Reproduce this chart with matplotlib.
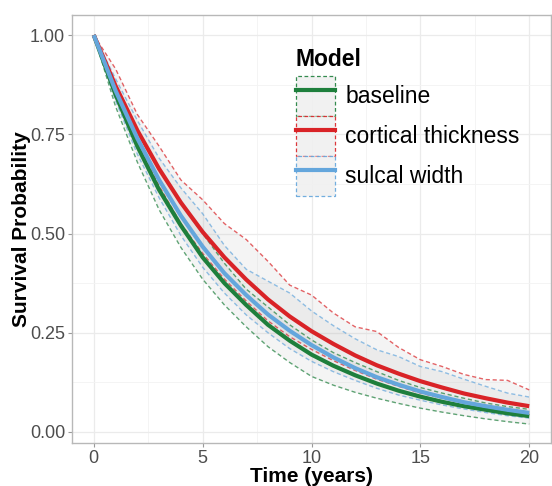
import matplotlib
matplotlib.use('Agg')
import matplotlib.pyplot as plt
from matplotlib.patches import Rectangle
from matplotlib.lines import Line2D
from matplotlib.ticker import MultipleLocator

plt.rcParams['font.family'] = ['Liberation Sans', 'DejaVu Sans']

# ---------------- data ----------------
years = list(range(21))
models = ['baseline', 'cortical thickness', 'sulcal width']
colors = ['#1E7F3C', '#D92327', '#64A6DC']

baseline = [1.00, 0.85, 0.72, 0.61, 0.52, 0.44, 0.375, 0.32, 0.27, 0.23, 0.195,
            0.167, 0.143, 0.122, 0.104, 0.089, 0.076, 0.065, 0.056, 0.047, 0.040]
cortical = [1.00, 0.872, 0.76, 0.663, 0.578, 0.504, 0.44, 0.384, 0.334, 0.291, 0.254,
            0.222, 0.193, 0.168, 0.147, 0.128, 0.112, 0.097, 0.085, 0.074, 0.065]
sulcal = [1.00, 0.86, 0.74, 0.635, 0.545, 0.467, 0.40, 0.345, 0.296, 0.255, 0.219,
          0.188, 0.161, 0.138, 0.119, 0.102, 0.088, 0.075, 0.065, 0.056, 0.048]

baseline_lo = [1.00, 0.82, 0.68, 0.56, 0.465, 0.385, 0.32, 0.265, 0.215, 0.175, 0.14,
               0.118, 0.10, 0.085, 0.072, 0.06, 0.05, 0.041, 0.033, 0.026, 0.020]
baseline_hi = [1.00, 0.87, 0.76, 0.66, 0.575, 0.50, 0.425, 0.36, 0.315, 0.27, 0.232,
               0.20, 0.175, 0.152, 0.13, 0.112, 0.098, 0.085, 0.073, 0.064, 0.057]
cortical_lo = [1.00, 0.855, 0.73, 0.62, 0.525, 0.45, 0.385, 0.33, 0.28, 0.24, 0.208,
               0.18, 0.155, 0.133, 0.115, 0.098, 0.085, 0.073, 0.063, 0.055, 0.047]
cortical_hi = [1.00, 0.915, 0.80, 0.72, 0.635, 0.585, 0.525, 0.485, 0.43, 0.37, 0.345,
               0.30, 0.265, 0.253, 0.213, 0.182, 0.165, 0.145, 0.132, 0.13, 0.106]
sulcal_lo = [1.00, 0.835, 0.70, 0.59, 0.495, 0.415, 0.35, 0.295, 0.25, 0.21, 0.178,
             0.152, 0.13, 0.11, 0.093, 0.08, 0.068, 0.058, 0.049, 0.041, 0.035]
sulcal_hi = [1.00, 0.89, 0.785, 0.69, 0.615, 0.55, 0.47, 0.41, 0.38, 0.35, 0.305,
             0.268, 0.235, 0.207, 0.19, 0.165, 0.152, 0.133, 0.115, 0.098, 0.088]

x_ticks = [0, 5, 10, 15, 20]
y_ticks = [0.00, 0.25, 0.50, 0.75, 1.00]
y_ticklabels = ['0.00', '0.25', '0.50', '0.75', '1.00']

curves = [baseline, cortical, sulcal]
lows = [baseline_lo, cortical_lo, sulcal_lo]
highs = [baseline_hi, cortical_hi, sulcal_hi]

# ---------------- figure ----------------
W, H = 552, 486
fig = plt.figure(figsize=(W / 100, H / 100), dpi=100)
ax = fig.add_axes([72 / W, 43 / H, 479 / W, 428 / H])

ax.set_xlim(-1, 21)
ax.set_ylim(-11 / 396, 1 + 20 / 396)

# ribbons
for lo, hi in zip(lows, highs):
    ax.fill_between(years, lo, hi, color='#BDBDBD', alpha=0.16, linewidth=0, zorder=2)
for lo, hi, c in zip(lows, highs, colors):
    ax.plot(years, lo, color=c, lw=1.0, ls=(0, (3, 2)), alpha=0.7, zorder=3)
    ax.plot(years, hi, color=c, lw=1.0, ls=(0, (3, 2)), alpha=0.7, zorder=3)
for y, c in zip(curves, colors):
    ax.plot(years, y, color=c, lw=3.0, zorder=4, solid_capstyle='butt')

# axes styling
ax.set_xticks(x_ticks)
ax.set_yticks(y_ticks)
ax.set_yticklabels(y_ticklabels)
ax.xaxis.set_minor_locator(MultipleLocator(2.5))
ax.yaxis.set_minor_locator(MultipleLocator(0.125))
ax.grid(which='major', color='#EBEBEB', lw=0.9, zorder=0)
ax.grid(which='minor', color='#F3F3F3', lw=0.6, zorder=0)
ax.set_axisbelow(True)
ax.tick_params(which='major', length=3, width=0.8, color='#9A9A9A',
               labelsize=13, labelcolor='#4D4D4D', pad=2)
ax.tick_params(which='minor', length=0)
for s in ax.spines.values():
    s.set_color('#B8B8B8')
    s.set_linewidth(1.0)

ax.set_xlabel('Time (years)', fontsize=15, fontweight='bold', labelpad=0)
ax.set_ylabel('Survival Probability', fontsize=15, fontweight='bold', labelpad=-1)

# legend
handles = []
for c in colors:
    box = Rectangle((0, 0), 1, 1, facecolor='#F0F0F0', edgecolor=c, ls=(0, (3, 2)), lw=0.9, alpha=0.9)
    ln = Line2D([], [], color=c, lw=3.0)
    handles.append((box, ln))
leg = ax.legend(handles, models, title='Model', loc='upper left',
                bbox_to_anchor=(0.448, 0.945), frameon=False, fontsize=16.5,
                title_fontproperties={'weight': 'bold', 'size': 16.5},
                handlelength=1.72, handleheight=2.3, labelspacing=0.0,
                handletextpad=0.45, borderaxespad=0)
leg._legend_box.align = 'left'
leg._legend_box.sep = 4

fig.savefig('out.png', dpi=100)
